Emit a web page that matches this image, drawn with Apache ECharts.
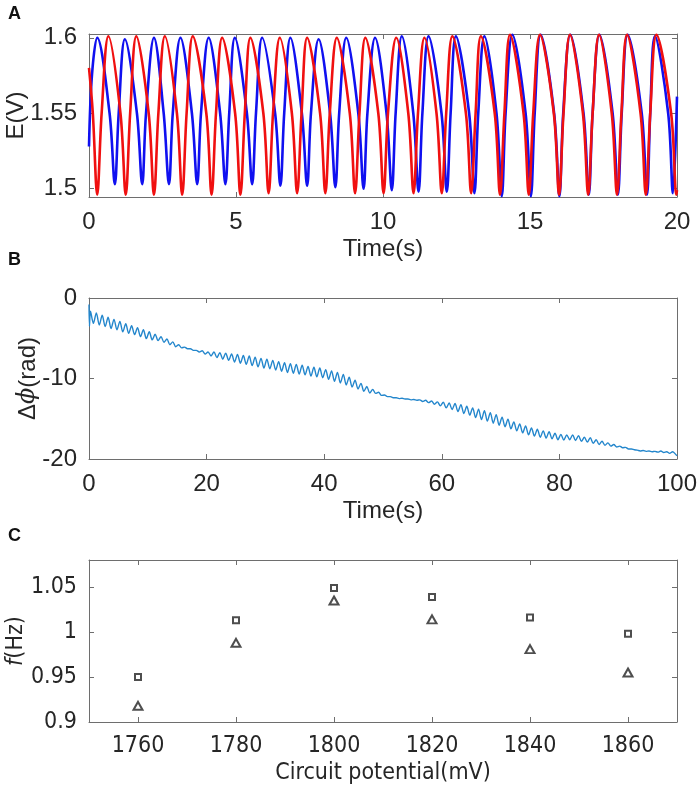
<!DOCTYPE html>
<html>
<head>
<meta charset="utf-8">
<script src="https://cdn.jsdelivr.net/npm/echarts@6/dist/echarts.min.js"></script>
<style>
html,body{margin:0;padding:0;background:#fff;}
#chart{width:699px;height:797px;}
</style>
</head>
<body>
<div id="chart"></div>
<script>
// ---- panel A : electrode potentials, key points [t, E]
var blueTrace = [[0,1.528],[0.1,1.575],[0.28,1.600],[0.70,1.55],[0.88,1.503],[1.01,1.55],[1.22,1.599],[1.63,1.55],[1.81,1.503],[1.94,1.55],[2.21,1.600],[2.54,1.55],[2.72,1.503],[2.85,1.55],[3.11,1.600],[3.50,1.55],[3.68,1.503],[3.81,1.55],[4.07,1.600],[4.46,1.55],[4.64,1.503],[4.77,1.55],[4.96,1.600],[5.37,1.55],[5.55,1.503],[5.68,1.55],[5.89,1.600],[6.33,1.55],[6.51,1.502],[6.64,1.55],[6.85,1.600],[7.24,1.55],[7.42,1.502],[7.55,1.55],[7.81,1.599],[8.20,1.55],[8.38,1.501],[8.51,1.55],[8.75,1.600],[9.16,1.55],[9.34,1.500],[9.47,1.55],[9.73,1.600],[10.12,1.55],[10.30,1.499],[10.43,1.55],[10.64,1.601],[11.03,1.55],[11.21,1.498],[11.34,1.55],[11.55,1.601],[11.99,1.55],[12.17,1.498],[12.30,1.55],[12.48,1.601],[12.93,1.55],[13.11,1.497],[13.24,1.55],[13.45,1.601],[13.86,1.55],[14.04,1.495],[14.17,1.55],[14.40,1.602],[14.85,1.55],[15.03,1.495],[15.16,1.55],[15.36,1.602],[15.82,1.55],[16.00,1.495],[16.13,1.55],[16.37,1.602],[16.82,1.55],[17.00,1.496],[17.13,1.55],[17.36,1.602],[17.81,1.55],[17.99,1.496],[18.12,1.55],[18.32,1.602],[18.80,1.55],[18.98,1.496],[19.09,1.55],[19.25,1.601],[19.70,1.55],[19.86,1.497],[20,1.561]];
var redTrace = [[0,1.580],[0.13,1.55],[0.28,1.496],[0.43,1.55],[0.66,1.601],[1.07,1.55],[1.25,1.496],[1.40,1.55],[1.61,1.601],[2.03,1.55],[2.21,1.496],[2.36,1.55],[2.58,1.601],[2.99,1.55],[3.17,1.496],[3.32,1.55],[3.53,1.601],[3.99,1.55],[4.17,1.496],[4.32,1.55],[4.53,1.600],[4.97,1.55],[5.15,1.496],[5.30,1.55],[5.49,1.600],[5.93,1.55],[6.11,1.497],[6.26,1.55],[6.49,1.600],[6.90,1.55],[7.08,1.497],[7.23,1.55],[7.42,1.600],[7.86,1.55],[8.04,1.497],[8.19,1.55],[8.43,1.600],[8.87,1.55],[9.05,1.497],[9.20,1.55],[9.40,1.600],[9.84,1.55],[10.02,1.497],[10.17,1.55],[10.45,1.600],[10.86,1.55],[11.04,1.497],[11.19,1.55],[11.41,1.600],[11.82,1.55],[12.00,1.497],[12.15,1.55],[12.36,1.601],[12.82,1.55],[13.00,1.497],[13.15,1.55],[13.33,1.601],[13.80,1.55],[13.98,1.496],[14.13,1.55],[14.32,1.602],[14.78,1.55],[14.96,1.496],[15.11,1.55],[15.34,1.602],[15.81,1.55],[15.99,1.496],[16.14,1.55],[16.36,1.602],[16.80,1.55],[16.98,1.496],[17.13,1.55],[17.35,1.602],[17.78,1.55],[17.96,1.496],[18.11,1.55],[18.30,1.602],[18.76,1.55],[18.94,1.496],[19.09,1.55],[19.30,1.602],[19.80,1.55],[19.98,1.496],[20,1.499]];
var aTicksX = [0, 5, 10, 15, 20];
var aTicksY = [1.5, 1.55, 1.6];

// ---- panel B : phase difference, one upper and one lower swing per second
var phaseStart = [[0,-0.8],[0.08,-3.5]];
var phaseHi = [-1.65,-1.85,-2.15,-2.4,-2.65,-2.9,-3.2,-3.45,-3.7,-3.95,
  -4.2,-4.5,-4.8,-5.1,-5.45,-5.8,-6.1,-6.3,-6.5,-6.55,
  -6.7,-6.7,-6.8,-6.85,-6.95,-7.0,-7.15,-7.2,-7.35,-7.5,
  -7.6,-7.75,-7.9,-8.05,-8.15,-8.25,-8.35,-8.5,-8.6,-8.7,
  -8.9,-9.05,-9.25,-9.5,-9.85,-10.2,-10.6,-11.0,-11.35,-11.7,
  -12.05,-12.25,-12.4,-12.45,-12.55,-12.6,-12.65,-12.7,-12.8,-12.9,
  -12.95,-13.05,-13.1,-13.25,-13.45,-13.65,-13.8,-14.0,-14.25,-14.5,
  -14.8,-15.05,-15.4,-15.65,-15.9,-16.15,-16.3,-16.5,-16.6,-16.8,
  -16.95,-17.0,-17.0,-17.1,-17.3,-17.35,-17.6,-17.8,-18.0,-18.2,
  -18.4,-18.55,-18.75,-18.9,-18.95,-19.0,-19.05,-19.0,-19.1,-19.1];
var phaseLo = [-3.15,-3.35,-3.55,-3.8,-3.95,-4.2,-4.4,-4.55,-4.8,-5.05,
  -5.2,-5.3,-5.5,-5.8,-6.05,-6.2,-6.3,-6.5,-6.7,-6.95,
  -7.2,-7.4,-7.6,-7.75,-7.95,-8.1,-8.25,-8.4,-8.55,-8.7,
  -8.8,-8.95,-9.1,-9.25,-9.35,-9.45,-9.55,-9.7,-9.8,-9.9,
  -10.1,-10.35,-10.55,-10.8,-11.05,-11.3,-11.6,-11.8,-11.85,-12.1,
  -12.25,-12.4,-12.5,-12.55,-12.65,-12.7,-12.85,-13.0,-13.2,-13.4,
  -13.65,-13.85,-14.1,-14.35,-14.55,-14.85,-15.1,-15.3,-15.55,-15.8,
  -16.0,-16.25,-16.5,-16.75,-17.0,-17.15,-17.3,-17.4,-17.5,-17.6,
  -17.65,-17.6,-17.7,-17.8,-17.9,-18.05,-18.2,-18.3,-18.4,-18.5,
  -18.6,-18.75,-18.85,-19.0,-19.05,-19.1,-19.15,-19.2,-19.3,-19.4];
var phaseEnd = [[100,-19.6]];
var bTicksX = [0, 20, 40, 60, 80, 100];
var bTicksY = [-20, -10, 0];

// ---- panel C : frequencies
var potentials = [1760, 1780, 1800, 1820, 1840, 1860];
var freqSquare = [0.950, 1.013, 1.049, 1.039, 1.016, 0.998];
var freqTriangle = [0.918, 0.988, 1.035, 1.014, 0.981, 0.955];
var cTicksX = [1760, 1780, 1800, 1820, 1840, 1860];
var cTicksY = [0.9, 0.95, 1, 1.05];

// build the phase line
var phaseData = phaseStart.slice();
phaseHi.forEach(function(v, i){
  phaseData.push([i + 0.25, v]);
  phaseData.push([i + 0.75, phaseLo[i]]);
});
phaseData = phaseData.concat(phaseEnd);

var axisCol = '#6e6e6e';
var txtCol = '#262626';
var fontA = 'Liberation Sans, Arial, sans-serif';
var fontC = 'Liberation Sans Narrow, DejaVu Sans Condensed, Liberation Sans, Arial, sans-serif';

function plain(v){ return String(v); }

function xAx(grid, min, max, ticks, name, top, font, size){
  return {
    type: 'value', gridIndex: grid, min: min, max: max,
    position: top ? 'top' : 'bottom',
    axisLine: {show: true, onZero: false, lineStyle: {color: axisCol, width: 1}},
    axisTick: {show: true, inside: true, length: 5, customValues: ticks, lineStyle: {color: axisCol}},
    axisLabel: {show: !top, customValues: ticks, formatter: plain, margin: 13, color: txtCol, fontSize: size, fontFamily: font},
    splitLine: {show: false},
    name: top ? '' : name, nameLocation: 'middle', nameGap: 40, nameMoveOverlap: false,
    nameTextStyle: {color: txtCol, fontSize: size, fontFamily: font}
  };
}
function yAx(grid, min, max, ticks, name, right, font, size, gap, rich){
  return {
    type: 'value', gridIndex: grid, min: min, max: max,
    position: right ? 'right' : 'left',
    axisLine: {show: true, onZero: false, lineStyle: {color: axisCol, width: 1}},
    axisTick: {show: true, inside: true, length: 5, customValues: ticks, lineStyle: {color: axisCol}},
    axisLabel: {show: !right, customValues: ticks, formatter: plain, margin: 12, color: txtCol, fontSize: size, fontFamily: font},
    splitLine: {show: false},
    name: right ? '' : name, nameLocation: 'middle', nameGap: gap, nameRotate: 90, nameMoveOverlap: false,
    nameTextStyle: {color: txtCol, fontSize: size, fontFamily: font, rich: rich || {}}
  };
}

var richPhi = {
  n: {fontSize: 24, color: txtCol, fontFamily: fontA},
  i: {fontSize: 24, color: txtCol, fontStyle: 'italic', fontFamily: 'DejaVu Serif, serif'}
};
var richF = {
  n: {fontSize: 23, color: txtCol, fontFamily: fontC},
  i: {fontSize: 23, color: txtCol, fontStyle: 'italic', fontFamily: fontC}
};

var myChart = echarts.init(document.getElementById('chart'));
var option = {
  backgroundColor: '#fff',
  animation: false,
  grid: [
    {left: 89, right: 22, top: 34, height: 163, outerBoundsMode: 'none'},
    {left: 89, right: 22, top: 298, height: 161, outerBoundsMode: 'none'},
    {left: 89, right: 22, top: 560, height: 162, outerBoundsMode: 'none'}
  ],
  xAxis: [
    xAx(0, 0, 20, aTicksX, 'Time(s)', false, fontA, 24),
    xAx(0, 0, 20, aTicksX, '', true, fontA, 24),
    xAx(1, 0, 100, bTicksX, 'Time(s)', false, fontA, 24),
    xAx(1, 0, 100, bTicksX, '', true, fontA, 24),
    xAx(2, 1750, 1870, cTicksX, 'Circuit potential(mV)', false, fontC, 23),
    xAx(2, 1750, 1870, cTicksX, '', true, fontC, 23)
  ],
  yAxis: [
    yAx(0, 1.4945, 1.6025, aTicksY, 'E(V)', false, fontA, 24, 61),
    yAx(0, 1.4945, 1.6025, aTicksY, '', true, fontA, 24, 0),
    yAx(1, -20, 0, bTicksY, '{n|Δ}{i|ϕ}{n|(rad)}', false, fontA, 24, 49, richPhi),
    yAx(1, -20, 0, bTicksY, '', true, fontA, 24, 0),
    yAx(2, 0.9, 1.08, cTicksY, '{i|f}{n|(Hz)}', false, fontC, 23, 61, richF),
    yAx(2, 0.9, 1.08, cTicksY, '', true, fontC, 23, 0)
  ],
  graphic: [
    {type: 'text', left: 8, top: 5, style: {text: 'A', font: 'bold 18px Liberation Sans, Arial', fill: '#111'}},
    {type: 'text', left: 8, top: 251, style: {text: 'B', font: 'bold 18px Liberation Sans, Arial', fill: '#111'}},
    {type: 'text', left: 8, top: 527, style: {text: 'C', font: 'bold 18px Liberation Sans, Arial', fill: '#111'}}
  ],
  series: [
    {
      name: 'blue', type: 'line', xAxisIndex: 0, yAxisIndex: 0,
      data: blueTrace, smooth: 0.35, showSymbol: false,
      lineStyle: {color: '#1010f0', width: 2.6}
    },
    {
      name: 'red', type: 'line', xAxisIndex: 0, yAxisIndex: 0,
      data: redTrace, smooth: 0.35, showSymbol: false,
      lineStyle: {color: '#f01010', width: 2.6}
    },
    {
      name: 'phase', type: 'line', xAxisIndex: 2, yAxisIndex: 2,
      data: phaseData, smooth: 0.3, showSymbol: false,
      lineStyle: {color: '#2386cc', width: 1.4}
    },
    {
      name: 'square', type: 'scatter', xAxisIndex: 4, yAxisIndex: 4,
      data: potentials.map(function(p, i){ return [p, freqSquare[i]]; }),
      symbol: 'emptyRect', symbolSize: 6,
      itemStyle: {color: '#222', borderWidth: 1}
    },
    {
      name: 'triangle', type: 'scatter', xAxisIndex: 4, yAxisIndex: 4,
      data: potentials.map(function(p, i){ return [p, freqTriangle[i]]; }),
      symbol: 'emptyTriangle', symbolSize: [9, 8],
      itemStyle: {color: '#222', borderWidth: 1}
    }
  ]
};
myChart.setOption(option);
</script>
</body>
</html>
